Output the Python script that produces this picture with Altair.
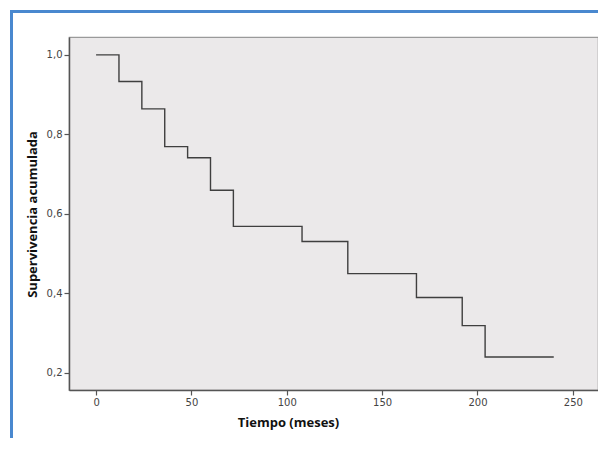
import altair as alt
import pandas as pd

times = [0, 12, 24, 36, 48, 60, 72, 108, 132, 168, 192, 204, 240]
survival = [1.0, 0.933, 0.864, 0.769, 0.741, 0.659, 0.568, 0.530, 0.449, 0.389, 0.318, 0.239, 0.239]
x_ticks = [0, 50, 100, 150, 200, 250]
y_ticks = [0.2, 0.4, 0.6, 0.8, 1.0]

df = pd.DataFrame({"t": times, "s": survival})

FONT = "DejaVu Sans"
TFONT = "Open Sans"

line = alt.Chart(df).mark_line(interpolate="step-after", color="#3f3f3f", strokeWidth=1.4).encode(
    x=alt.X("t:Q", scale=alt.Scale(domain=[-14.2, 263.2], nice=False, zero=False),
            axis=alt.Axis(values=x_ticks, title="Tiempo (meses)", grid=False,
                          titleX=219, titleY=32, titleBaseline="middle", titleAlign="center",
                          labelPadding=2)),
    y=alt.Y("s:Q", scale=alt.Scale(domain=[0.156, 1.045], nice=False, zero=False),
            axis=alt.Axis(values=y_ticks, title="Supervivencia acumulada", grid=False,
                          labelExpr="replace(format(datum.value, '.1f'), '.', ',')",
                          titleX=-37, titleY=177, titleBaseline="middle", titleAlign="center",
                          labelPadding=2)),
)

frame_top = alt.Chart(df).mark_rule(color="#4a88cf", strokeWidth=2.5).encode(
    x=alt.value(-59), x2=alt.value(545), y=alt.value(-25.5)
)
frame_left = alt.Chart(df).mark_rule(color="#4a88cf", strokeWidth=2.5).encode(
    x=alt.value(-57.5), y=alt.value(-26.5), y2=alt.value(420)
)

chart = alt.layer(line, frame_top, frame_left).properties(
    width=529, height=353,
    padding={"left": 61, "top": 29, "right": 0, "bottom": 48},
    autosize=alt.AutoSizeParams(type="none"),
    background="white",
).configure_view(
    fill="#ebe9ea", stroke="#9a9a9a", strokeWidth=1.2
).configure_axis(
    domainColor="#555555", domainWidth=1.5, tickColor="#555555", tickSize=5, tickWidth=1.2,
    labelFont=FONT, labelFontSize=10, labelColor="#444444",
    titleFont=TFONT, titleFontSize=13, titleFontWeight="bold", titleColor="#111111",
)

chart.save("out.html", embed_options={"renderer": "svg", "actions": False})
